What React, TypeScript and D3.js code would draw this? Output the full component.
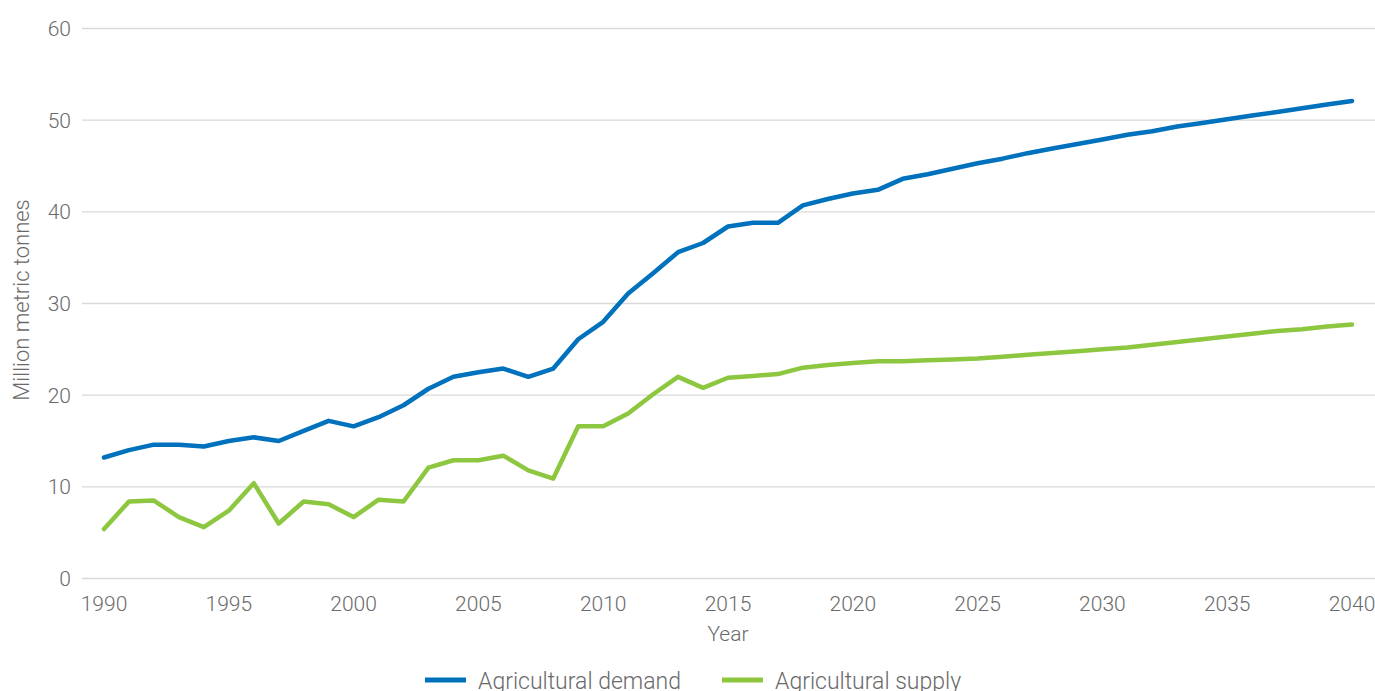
import React from "react";
import * as d3 from "d3";

const years: number[] = d3.range(1990, 2041);

const demand: number[] = [
  13.2, 14.0, 14.6, 14.6, 14.4, 15.0, 15.4, 15.0, 16.1, 17.2,
  16.6, 17.6, 18.9, 20.7, 22.0, 22.5, 22.9, 22.0, 22.9, 26.1,
  28.0, 31.1, 33.3, 35.6, 36.6, 38.4, 38.8, 38.8, 40.7, 41.4,
  42.0, 42.4, 43.6, 44.1, 44.7, 45.3, 45.8, 46.4, 46.9, 47.4,
  47.9, 48.4, 48.8, 49.3, 49.7, 50.1, 50.5, 50.9, 51.3, 51.7,
  52.1,
];

const supply: number[] = [
  5.4, 8.4, 8.5, 6.7, 5.6, 7.4, 10.4, 6.0, 8.4, 8.1,
  6.7, 8.6, 8.4, 12.1, 12.9, 12.9, 13.4, 11.8, 10.9, 16.6,
  16.6, 18.0, 20.1, 22.0, 20.8, 21.9, 22.1, 22.3, 23.0, 23.3,
  23.5, 23.7, 23.7, 23.8, 23.9, 24.0, 24.2, 24.4, 24.6, 24.8,
  25.0, 25.2, 25.5, 25.8, 26.1, 26.4, 26.7, 27.0, 27.2, 27.5,
  27.7,
];

const xTicks: number[] = [1990, 1995, 2000, 2005, 2010, 2015, 2020, 2025, 2030, 2035, 2040];
const yTicks: number[] = [0, 10, 20, 30, 40, 50, 60];

const seriesNames: string[] = ["Agricultural demand", "Agricultural supply"];
const seriesColors: string[] = ["#0071bc", "#8dc63f"];

const W = 1375;
const H = 691;
const FONT = "Roboto, 'Liberation Sans', Arial, sans-serif";
const TEXT = "#6a6a6a";

export default function App() {
  const x = d3.scaleLinear().domain([1990, 2040]).range([104, 1352]);
  const y = d3.scaleLinear().domain([0, 60]).range([578.5, 28.5]);
  const line = d3
    .line<number>()
    .x((_, i) => x(years[i]))
    .y((d) => y(d))
    .curve(d3.curveLinear);

  const series = [demand, supply];
  const legendX = [425, 722];

  return (
    <svg
      width={W}
      height={H}
      style={{ position: "absolute", left: 0, top: 0, background: "#fff" }}
      fontFamily={FONT}
      fontWeight={300}
    >
      {yTicks.map((t) => (
        <g key={t}>
          <line x1={82} x2={W} y1={y(t)} y2={y(t)} stroke="#d9d9d9" strokeWidth={1.3} />
          <text x={71} y={y(t)} dy="0.36em" textAnchor="end" fontSize={21} fill={TEXT}>
            {t}
          </text>
        </g>
      ))}
      {xTicks.map((t) => (
        <text key={t} x={x(t)} y={611} textAnchor="middle" fontSize={21} fill={TEXT}>
          {t}
        </text>
      ))}
      <text x={(x(1990) + x(2040)) / 2} y={641} textAnchor="middle" fontSize={21} fill={TEXT}>
        Year
      </text>
      <text
        transform={`translate(29,300) rotate(-90)`}
        textAnchor="middle"
        fontSize={22}
        fill={TEXT}
      >
        Million metric tonnes
      </text>
      {series.map((s, i) => (
        <path
          key={i}
          d={line(s) || ""}
          fill="none"
          stroke={seriesColors[i]}
          strokeWidth={4.5}
          strokeLinejoin="round"
          strokeLinecap="round"
        />
      ))}
      {seriesNames.map((n, i) => (
        <g key={n}>
          <line
            x1={legendX[i]}
            x2={legendX[i] + 41}
            y1={680}
            y2={680}
            stroke={seriesColors[i]}
            strokeWidth={5}
          />
          <text x={legendX[i] + 53} y={689} fontSize={23} fill={TEXT}>
            {n}
          </text>
        </g>
      ))}
    </svg>
  );
}
